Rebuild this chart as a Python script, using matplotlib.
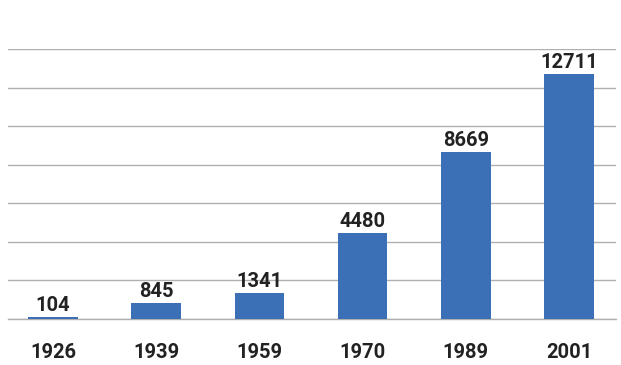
import matplotlib
matplotlib.use("Agg")
import matplotlib.pyplot as plt

years = ["1926", "1939", "1959", "1970", "1989", "2001"]
values = [104, 845, 1341, 4480, 8669, 12711]
grid_ticks = [0, 2000, 4000, 6000, 8000, 10000, 12000, 14000]

plt.rcParams["font.family"] = ["Roboto", "DejaVu Sans"]

fig = plt.figure(figsize=(6.21, 3.65), dpi=100)
ax = fig.add_axes([8 / 621, 46 / 365, (616 - 8) / 621, (319 - 49) / 365])

x = list(range(len(years)))
bars = ax.bar(x, values, width=0.48, color="#3B70B7", zorder=3)

for xi, v in zip(x, values):
    ax.annotate(str(v), (xi, v), xytext=(0, 1.5), textcoords="offset points",
                ha="center", va="bottom", fontsize=14.5, fontweight="bold", color="#222222")

ax.set_ylim(0, 14000)
ax.set_xlim(-0.436, 5.455)
ax.set_yticks(grid_ticks)
ax.yaxis.grid(True, color="#b0b0b0", linewidth=1.0, zorder=0)
ax.tick_params(axis="y", left=False, labelleft=False)
ax.set_xticks(x)
ax.set_xticklabels(years, fontsize=14.5, fontweight="bold", color="#222222")
ax.tick_params(axis="x", length=0, pad=17)
for side in ["top", "right", "left"]:
    ax.spines[side].set_visible(False)
ax.spines["bottom"].set_color("#b0b0b0")
ax.spines["bottom"].set_linewidth(1.0)

fig.savefig("out.png", dpi=100)
